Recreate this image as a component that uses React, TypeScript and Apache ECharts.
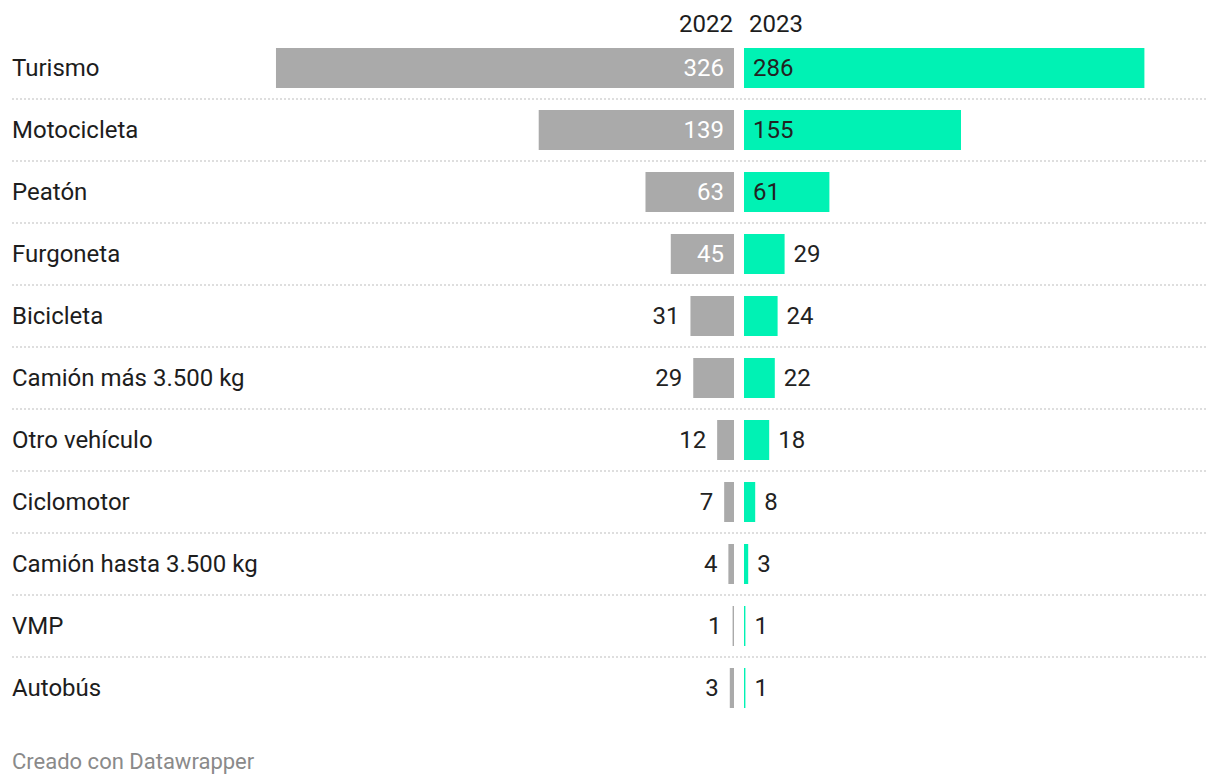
import React, { useEffect, useRef } from "react";
import * as echarts from "echarts";

const categories = [
  "Turismo",
  "Motocicleta",
  "Peatón",
  "Furgoneta",
  "Bicicleta",
  "Camión más 3.500 kg",
  "Otro vehículo",
  "Ciclomotor",
  "Camión hasta 3.500 kg",
  "VMP",
  "Autobús",
];
const values2022 = [326, 139, 63, 45, 31, 29, 12, 7, 4, 1, 3];
const values2023 = [286, 155, 61, 29, 24, 22, 18, 8, 3, 1, 1];
const seriesNames = ["2022", "2023"];
const footerText = "Creado con Datawrapper";

const FONT = "Roboto";
const FS = 24;
const GRAY = "#aaaaaa";
const GREEN = "#00f2b4";
const INSIDE_MIN = 40;

export default function App() {
  const ref = useRef<HTMLDivElement>(null);

  useEffect(() => {
    if (!ref.current) return;
    const chart = echarts.init(ref.current, undefined, { renderer: "svg" });

    const data2022 = values2022.map((v) => {
      const inside = v >= INSIDE_MIN;
      return {
        value: v,
        label: {
          show: true,
          position: inside ? "insideRight" : "left",
          distance: inside ? 10 : 11,
          color: inside ? "#ffffff" : "#222222",
          fontFamily: FONT,
          fontSize: FS,
        },
      };
    });
    const data2023 = values2023.map((v) => {
      const inside = v >= INSIDE_MIN;
      return {
        value: v,
        label: {
          show: true,
          position: inside ? "insideLeft" : "right",
          distance: 9,
          color: "#222222",
          fontFamily: FONT,
          fontSize: FS,
        },
      };
    });

    const option: any = {
      animation: false,
      backgroundColor: "#ffffff",
      textStyle: { fontFamily: FONT },
      grid: [
        { left: 258, right: 486, top: 37, bottom: 65 },
        { left: 744, right: 14, top: 37, bottom: 65 },
        { left: 12, right: 12, top: 99, bottom: 127 },
      ],
      xAxis: [
        { gridIndex: 0, type: "value", min: 0, max: 338.8, inverse: true, show: false },
        { gridIndex: 1, type: "value", min: 0, max: 330, show: false },
        { gridIndex: 2, type: "value", min: 0, max: 1, show: false },
      ],
      yAxis: [
        {
          gridIndex: 0,
          type: "category",
          data: categories,
          inverse: true,
          axisLine: { show: false },
          axisTick: { show: false },
          splitLine: { show: false },
          axisLabel: {
            show: true,
            align: "left",
            margin: 246,
            color: "#1d1d1d",
            fontFamily: FONT,
            fontSize: FS,
          },
        },
        {
          gridIndex: 1,
          type: "category",
          data: categories,
          inverse: true,
          show: false,
        },
        {
          gridIndex: 2,
          type: "value",
          min: 1,
          max: 10,
          interval: 1,
          inverse: true,
          axisLine: { show: false },
          axisTick: { show: false },
          axisLabel: { show: false },
          splitLine: {
            show: true,
            lineStyle: { color: "#d4d4d4", width: 1.5, type: [2, 2] },
          },
        },
      ],
      series: [
        {
          name: seriesNames[0],
          type: "bar",
          xAxisIndex: 0,
          yAxisIndex: 0,
          barWidth: 40,
          itemStyle: { color: GRAY },
          data: data2022,
        },
        {
          name: seriesNames[1],
          type: "bar",
          xAxisIndex: 1,
          yAxisIndex: 1,
          barWidth: 40,
          itemStyle: { color: GREEN },
          data: data2023,
        },
      ],
      graphic: [
        {
          type: "text",
          x: 733,
          y: 24,
          style: {
            text: seriesNames[0],
            fill: "#1d1d1d",
            font: `${FS}px ${FONT}`,
            textAlign: "right",
            textVerticalAlign: "middle",
          },
        },
        {
          type: "text",
          x: 749,
          y: 24,
          style: {
            text: seriesNames[1],
            fill: "#1d1d1d",
            font: `${FS}px ${FONT}`,
            textAlign: "left",
            textVerticalAlign: "middle",
          },
        },
        {
          type: "text",
          x: 12,
          y: 761,
          style: {
            text: footerText,
            fill: "#8a8a8a",
            font: `22px ${FONT}`,
            textAlign: "left",
            textVerticalAlign: "middle",
          },
        },
      ],
    };

    chart.setOption(option);
    return () => chart.dispose();
  }, []);

  return (
    <div
      ref={ref}
      style={{ position: "absolute", left: 0, top: 0, width: 1220, height: 784 }}
    />
  );
}
